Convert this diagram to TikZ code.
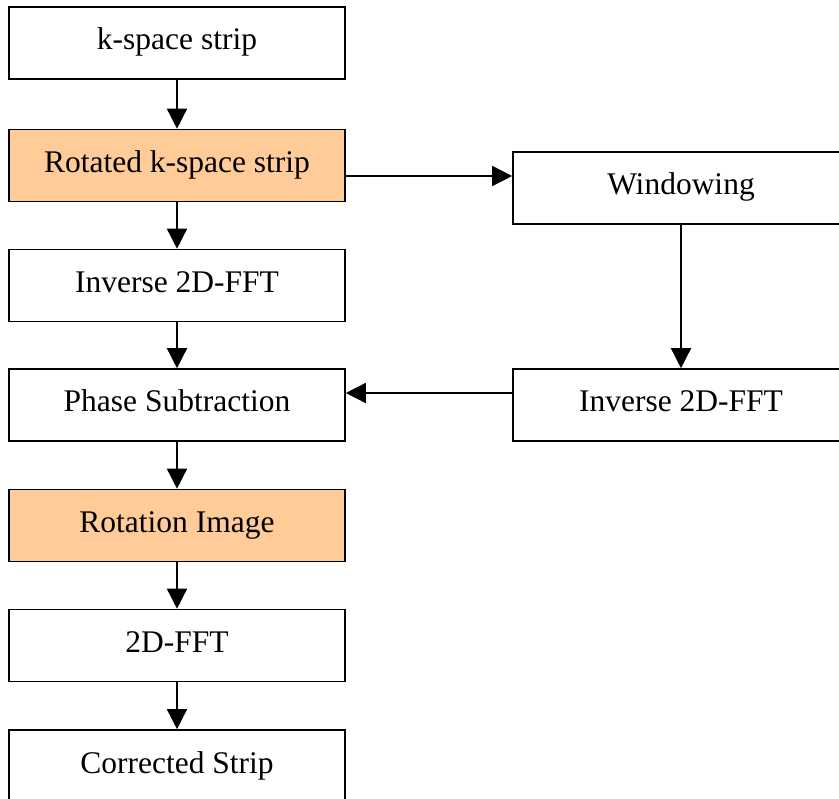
\documentclass[tikz,border=0pt]{standalone}
\usepackage{fontspec}
\setmainfont{Liberation Serif}
\usetikzlibrary{arrows.meta}
\definecolor{boxorange}{HTML}{FFCC99}
\begin{document}
\begin{tikzpicture}[x=1pt,y=-1pt,
  stepbox/.style={draw=black,line width=1.6pt,rectangle,minimum width=336pt,minimum height=72pt,
    inner sep=0pt,text height=22pt,text depth=8pt,font=\fontsize{31.5pt}{36pt}\selectfont},
  hl/.style={fill=boxorange},
  arr/.style={line width=1.5pt,-{Triangle[length=20pt,width=20pt]}}]
\useasboundingbox (0,0) rectangle (839,799);
\clip (0,0) rectangle (839,799);
\node[stepbox] (k) at (177,43) {k-space strip};
\node[stepbox,hl] (rot) at (177,165.5) {Rotated k-space strip};
\node[stepbox] (ifft) at (177,285.5) {Inverse 2D-FFT};
\node[stepbox] (phase) at (177,405) {Phase Subtraction};
\node[stepbox,hl] (rimg) at (177,525.5) {Rotation Image};
\node[stepbox] (fft) at (177,645.5) {2D-FFT};
\node[stepbox] (corr) at (177,766) {Corrected Strip};
\node[stepbox] (win) at (681,188) {Windowing};
\node[stepbox] (inv2) at (681,405) {Inverse 2D-FFT};
\coordinate (r1) at ([yshift=-10.5pt]rot.east);
\coordinate (p1) at ([yshift=12pt]phase.east);
\draw[arr] (k.south) -- (rot.north);
\draw[arr] (rot.south) -- (ifft.north);
\draw[arr] (ifft.south) -- (phase.north);
\draw[arr] (phase.south) -- (rimg.north);
\draw[arr] (rimg.south) -- (fft.north);
\draw[arr] (fft.south) -- (corr.north);
\draw[arr] (r1) -- (r1 -| win.west);
\draw[arr] (win.south) -- (inv2.north);
\draw[arr] (p1 -| inv2.west) -- (p1);
\end{tikzpicture}
\end{document}
